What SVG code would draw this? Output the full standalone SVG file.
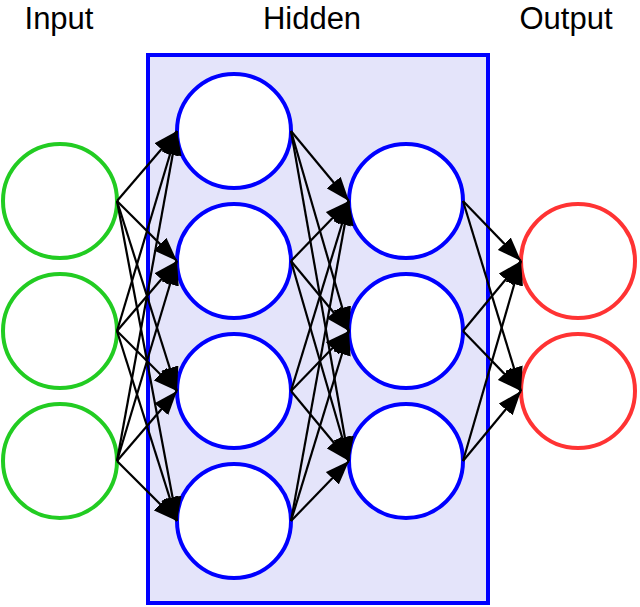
<svg xmlns="http://www.w3.org/2000/svg" width="640" height="607" viewBox="0 0 640 607">
<style>
.lbl{font-family:"Liberation Sans",Arial,sans-serif;font-size:31px;fill:#000;text-anchor:middle}
.n{fill:#fff;stroke-width:4}
.in{stroke:#22cc22}
.hid{stroke:#0000ff}
.out{stroke:#ff3333}
.e line{stroke:#000;stroke-width:2.2;marker-end:url(#ah)}
</style>
<defs>
<marker id="ah" markerUnits="userSpaceOnUse" markerWidth="24" markerHeight="18" refX="24" refY="9" orient="auto">
<path d="M0,0 L24,9 L0,18 Z" fill="#000"/>
</marker>
</defs>
<rect x="148" y="55" width="340" height="548" fill="#e4e4fa" stroke="#0000ff" stroke-width="4"/>
<text class="lbl" x="59" y="28.5">Input</text>
<text class="lbl" x="312" y="28.5">Hidden</text>
<text class="lbl" x="566" y="28.5">Output</text>
<g id="i1"><circle class="n in" cx="60" cy="201" r="57"/></g>
<g id="i2"><circle class="n in" cx="60" cy="331" r="57"/></g>
<g id="i3"><circle class="n in" cx="60" cy="461" r="57"/></g>
<g id="h1a"><circle class="n hid" cx="234" cy="131" r="57"/></g>
<g id="h1b"><circle class="n hid" cx="234" cy="261" r="57"/></g>
<g id="h1c"><circle class="n hid" cx="234" cy="391" r="57"/></g>
<g id="h1d"><circle class="n hid" cx="234" cy="521" r="57"/></g>
<g id="h2a"><circle class="n hid" cx="406" cy="201" r="57"/></g>
<g id="h2b"><circle class="n hid" cx="406" cy="331" r="57"/></g>
<g id="h2c"><circle class="n hid" cx="406" cy="461" r="57"/></g>
<g id="o1"><circle class="n out" cx="578" cy="261" r="57"/></g>
<g id="o2"><circle class="n out" cx="578" cy="391" r="57"/></g>
<g class="e" id="connectors">
<line x1="117" y1="201" x2="177" y2="131"/>
<line x1="117" y1="201" x2="177" y2="261"/>
<line x1="117" y1="201" x2="177" y2="391"/>
<line x1="117" y1="201" x2="177" y2="521"/>
<line x1="117" y1="331" x2="177" y2="131"/>
<line x1="117" y1="331" x2="177" y2="261"/>
<line x1="117" y1="331" x2="177" y2="391"/>
<line x1="117" y1="331" x2="177" y2="521"/>
<line x1="117" y1="461" x2="177" y2="131"/>
<line x1="117" y1="461" x2="177" y2="261"/>
<line x1="117" y1="461" x2="177" y2="391"/>
<line x1="117" y1="461" x2="177" y2="521"/>
<line x1="291" y1="131" x2="349" y2="201"/>
<line x1="291" y1="131" x2="349" y2="331"/>
<line x1="291" y1="131" x2="349" y2="461"/>
<line x1="291" y1="261" x2="349" y2="201"/>
<line x1="291" y1="261" x2="349" y2="331"/>
<line x1="291" y1="261" x2="349" y2="461"/>
<line x1="291" y1="391" x2="349" y2="201"/>
<line x1="291" y1="391" x2="349" y2="331"/>
<line x1="291" y1="391" x2="349" y2="461"/>
<line x1="291" y1="521" x2="349" y2="201"/>
<line x1="291" y1="521" x2="349" y2="331"/>
<line x1="291" y1="521" x2="349" y2="461"/>
<line x1="463" y1="201" x2="521" y2="261"/>
<line x1="463" y1="201" x2="521" y2="391"/>
<line x1="463" y1="331" x2="521" y2="261"/>
<line x1="463" y1="331" x2="521" y2="391"/>
<line x1="463" y1="461" x2="521" y2="261"/>
<line x1="463" y1="461" x2="521" y2="391"/>
</g>
</svg>
